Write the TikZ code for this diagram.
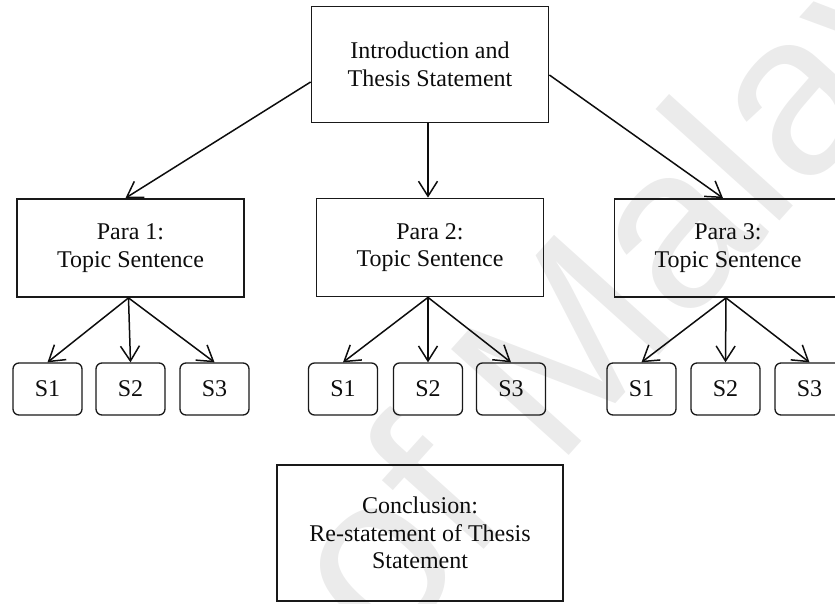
\documentclass[tikz,border=0pt]{standalone}
\usepackage{fontspec}
\setmainfont{Liberation Serif}
\newfontfamily\wmfont{Liberation Sans}
\usetikzlibrary{arrows.meta}
\begin{document}
\begin{tikzpicture}[x=1pt,y=-1pt,
  box/.style={draw=black!90, line width=1.8pt, rectangle, inner sep=0pt,
    align=center, text=black!95, font=\fontsize{24}{27.5}\selectfont},
  bigbox/.style={box, minimum width=227pt, minimum height=98pt},
  sbox/.style={box, rounded corners=6pt, line width=1.3pt,
    minimum width=69pt, minimum height=52pt},
  link/.style={line width=1.5pt, draw=black!95,
    -{Straight Barb[length=15pt,width=19pt]}},
  watermark/.style={text=black!8, inner sep=0pt,
    font=\wmfont\fontsize{230}{230}\selectfont}
]
\useasboundingbox (0,0) rectangle (835,603);
\clip (0,0) rectangle (835,603);

% faint diagonal watermark behind the chart
\node[watermark, rotate=48, anchor=base west] (wm) at (385,660) {of Malaya};

% top level
\node[box, minimum width=237pt, minimum height=116pt] (intro) at (430,64.5)
  {Introduction and\\Thesis Statement};

% paragraph boxes
\node[bigbox] (p1) at (130.5,248) {Para 1:\\Topic Sentence};
\node[bigbox] (p2) at (430,247.5) {Para 2:\\Topic Sentence};
\node[bigbox] (p3) at (728,248) {Para 3:\\Topic Sentence};

% supporting sentences
\node[sbox] (s11) at (47.5,389) {S1};
\node[sbox] (s12) at (130.5,389) {S2};
\node[sbox] (s13) at (214.5,389) {S3};
\node[sbox] (s21) at (343,389) {S1};
\node[sbox] (s22) at (428,389) {S2};
\node[sbox] (s23) at (511,389) {S3};
\node[sbox] (s31) at (641.5,389) {S1};
\node[sbox] (s32) at (725.5,389) {S2};
\node[sbox] (s33) at (809.5,389) {S3};

% conclusion
\node[box, minimum width=286pt, minimum height=136pt] (concl) at (420,533)
  {Conclusion:\\Re-statement of Thesis\\Statement};

% connectors
\draw[link] ([yshift=-17.5pt]intro.west) -- ([xshift=-5pt]p1.north);
\draw[link] ([xshift=-2pt]intro.south) -- ([xshift=-2pt]p2.north);
\draw[link] ([yshift=-10.5pt]intro.east) -- ([xshift=-5pt]p3.north);

\foreach \p in {1,2,3}{
  \foreach \s in {1,2,3}{
    \draw[link] ([xshift=-2pt]p\p.south) -- (s\p\s.north);
  }
}
\end{tikzpicture}
\end{document}
